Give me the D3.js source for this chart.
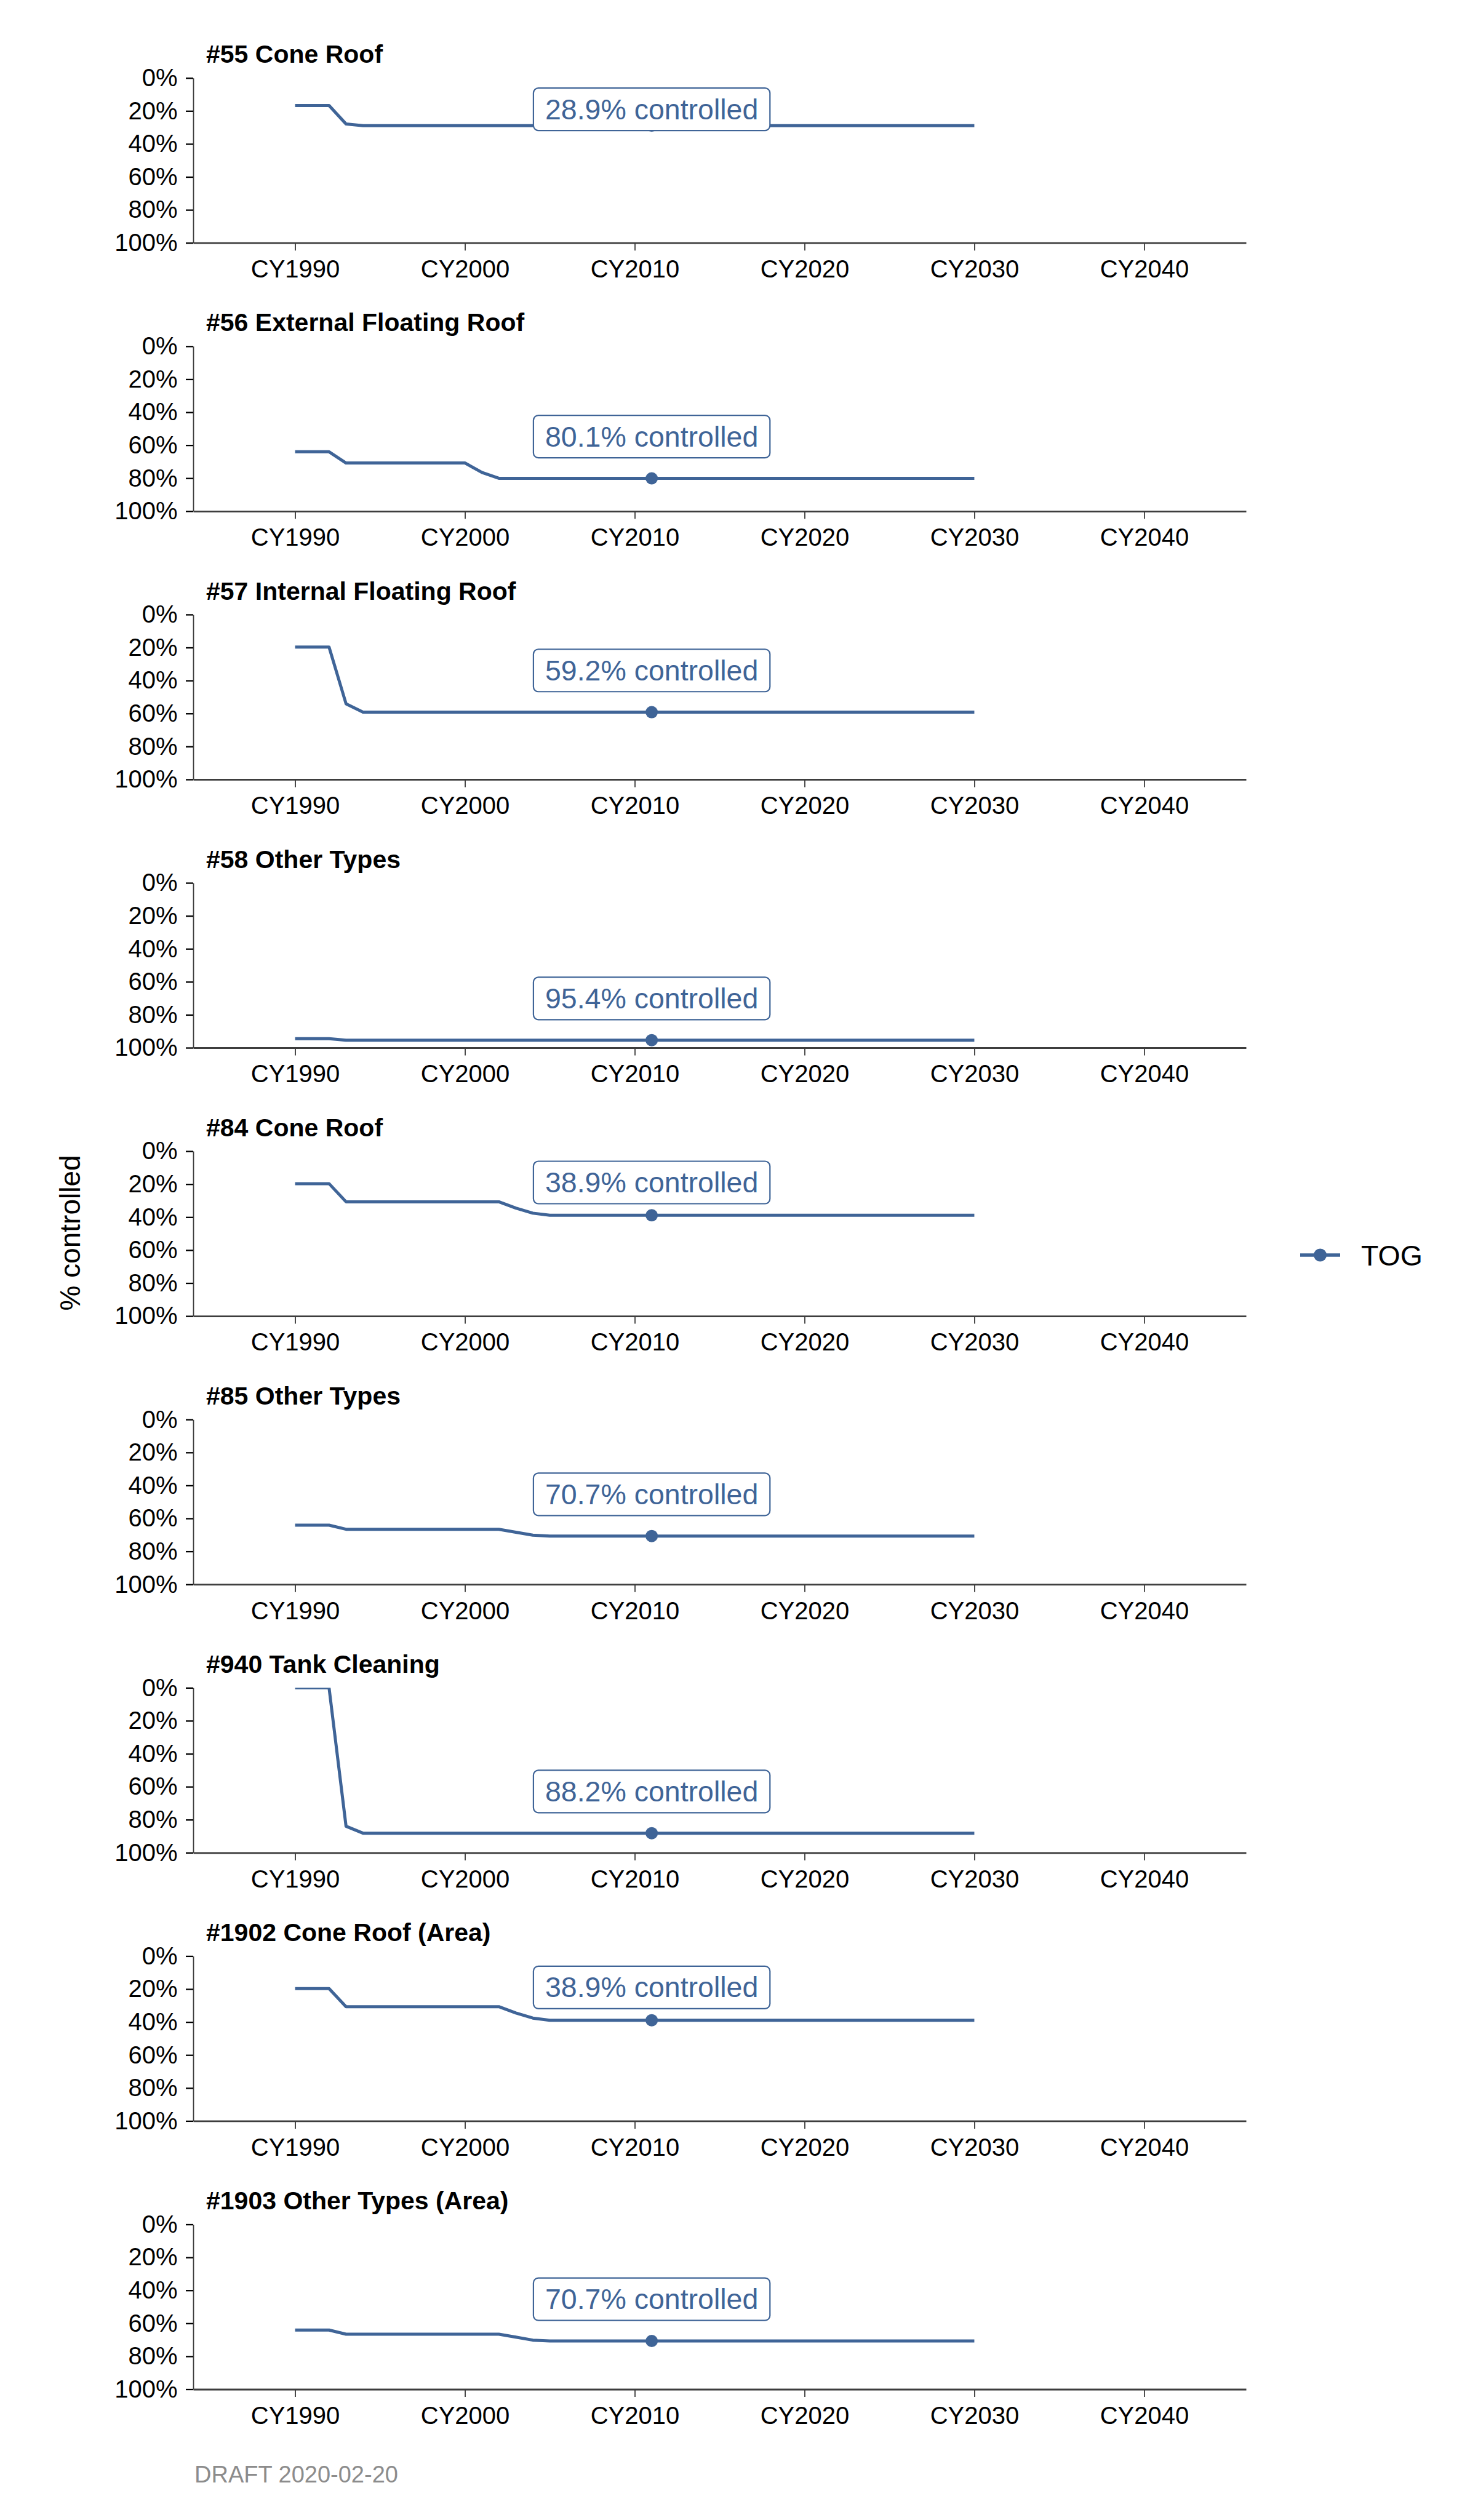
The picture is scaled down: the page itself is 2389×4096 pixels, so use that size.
<!DOCTYPE html>
<html><head><meta charset="utf-8">
<script src="https://cdn.jsdelivr.net/npm/d3@7"></script>
<style>
body{margin:0;background:#fff}
svg{display:block}
text{font-family:"Liberation Sans",Arial,Helvetica,sans-serif}
</style>
</head><body>
<script>
// ---------------- DATA ----------------
const years = [
  1990,1991,1992,1993,1994,1995,1996,1997,1998,1999,
  2000,2001,2002,2003,2004,2005,2006,2007,2008,2009,
  2010,2011,2012,2013,2014,2015,2016,2017,2018,2019,
  2020,2021,2022,2023,2024,2025,2026,2027,2028,2029,
  2030];

const panelTitles = ["#55 Cone Roof","#56 External Floating Roof","#57 Internal Floating Roof",
  "#58 Other Types","#84 Cone Roof","#85 Other Types","#940 Tank Cleaning",
  "#1902 Cone Roof (Area)","#1903 Other Types (Area)"];

const s55 = [
  16.7,16.7,16.7,27.9,28.9,28.9,28.9,28.9,28.9,28.9,
  28.9,28.9,28.9,28.9,28.9,28.9,28.9,28.9,28.9,28.9,
  28.9,28.9,28.9,28.9,28.9,28.9,28.9,28.9,28.9,28.9,
  28.9,28.9,28.9,28.9,28.9,28.9,28.9,28.9,28.9,28.9,
  28.9];
const s56 = [
  64.0,64.0,64.0,70.8,70.8,70.8,70.8,70.8,70.8,70.8,
  70.8,76.5,80.1,80.1,80.1,80.1,80.1,80.1,80.1,80.1,
  80.1,80.1,80.1,80.1,80.1,80.1,80.1,80.1,80.1,80.1,
  80.1,80.1,80.1,80.1,80.1,80.1,80.1,80.1,80.1,80.1,
  80.1];
const s57 = [
  19.7,19.7,19.7,54.1,59.2,59.2,59.2,59.2,59.2,59.2,
  59.2,59.2,59.2,59.2,59.2,59.2,59.2,59.2,59.2,59.2,
  59.2,59.2,59.2,59.2,59.2,59.2,59.2,59.2,59.2,59.2,
  59.2,59.2,59.2,59.2,59.2,59.2,59.2,59.2,59.2,59.2,
  59.2];
const s58 = [
  94.5,94.5,94.5,95.4,95.4,95.4,95.4,95.4,95.4,95.4,
  95.4,95.4,95.4,95.4,95.4,95.4,95.4,95.4,95.4,95.4,
  95.4,95.4,95.4,95.4,95.4,95.4,95.4,95.4,95.4,95.4,
  95.4,95.4,95.4,95.4,95.4,95.4,95.4,95.4,95.4,95.4,
  95.4];
const s84 = [
  19.7,19.7,19.7,30.7,30.7,30.7,30.7,30.7,30.7,30.7,
  30.7,30.7,30.7,34.5,37.6,38.9,38.9,38.9,38.9,38.9,
  38.9,38.9,38.9,38.9,38.9,38.9,38.9,38.9,38.9,38.9,
  38.9,38.9,38.9,38.9,38.9,38.9,38.9,38.9,38.9,38.9,
  38.9];
const s85 = [
  64.1,64.1,64.1,66.6,66.6,66.6,66.6,66.6,66.6,66.6,
  66.6,66.6,66.6,68.4,70.2,70.7,70.7,70.7,70.7,70.7,
  70.7,70.7,70.7,70.7,70.7,70.7,70.7,70.7,70.7,70.7,
  70.7,70.7,70.7,70.7,70.7,70.7,70.7,70.7,70.7,70.7,
  70.7];
const s940 = [
  0.0,0.0,0.0,84.0,88.2,88.2,88.2,88.2,88.2,88.2,
  88.2,88.2,88.2,88.2,88.2,88.2,88.2,88.2,88.2,88.2,
  88.2,88.2,88.2,88.2,88.2,88.2,88.2,88.2,88.2,88.2,
  88.2,88.2,88.2,88.2,88.2,88.2,88.2,88.2,88.2,88.2,
  88.2];
const s1902 = [
  19.7,19.7,19.7,30.7,30.7,30.7,30.7,30.7,30.7,30.7,
  30.7,30.7,30.7,34.5,37.6,38.9,38.9,38.9,38.9,38.9,
  38.9,38.9,38.9,38.9,38.9,38.9,38.9,38.9,38.9,38.9,
  38.9,38.9,38.9,38.9,38.9,38.9,38.9,38.9,38.9,38.9,
  38.9];
const s1903 = [
  64.1,64.1,64.1,66.6,66.6,66.6,66.6,66.6,66.6,66.6,
  66.6,66.6,66.6,68.4,70.2,70.7,70.7,70.7,70.7,70.7,
  70.7,70.7,70.7,70.7,70.7,70.7,70.7,70.7,70.7,70.7,
  70.7,70.7,70.7,70.7,70.7,70.7,70.7,70.7,70.7,70.7,
  70.7];

const seriesValues = [s55, s56, s57, s58, s84, s85, s940, s1902, s1903];
const highlightYear = 2011;
const highlightLabels = [28.9, 80.1, 59.2, 95.4, 38.9, 70.7, 88.2, 38.9, 70.7];
const yTicks = [0, 20, 40, 60, 80, 100];
const xTicks = [1990, 2000, 2010, 2020, 2030, 2040];
const legendLabel = "TOG";
const yAxisTitle = "% controlled";
const caption = "DRAFT 2020-02-20";

// ---------------- LAYOUT ----------------
const W = 2389, H = 4096;
const color = "#3f6497";
const svg = d3.select("body").append("svg").attr("width", W).attr("height", H);

const x = d3.scaleLinear().domain([1984, 2046]).range([314, 2025]);
const panelTop0 = 126.7, panelStep = 436.1, panelH = 268;
const y = d3.scaleLinear().domain([0, 100]).range([0, panelH]);

const defs = svg.append("defs");
defs.append("clipPath").attr("id", "plotclip")
  .append("rect").attr("x", x.range()[0]).attr("y", 0)
  .attr("width", x.range()[1] - x.range()[0]).attr("height", panelH);

const line = d3.line().x(d => x(d[0])).y(d => y(d[1]));

panelTitles.forEach((title, i) => {
  const top = panelTop0 + panelStep * i;
  const g = svg.append("g").attr("transform", `translate(0,${top})`);
  const vals = seriesValues[i];
  const pts = years.map((yr, k) => [yr, vals[k]]);

  // title
  g.append("text").attr("x", 335).attr("y", -24.4)
    .attr("font-size", 41).attr("font-weight", "bold").attr("fill", "#000")
    .text(title);

  // y axis
  const ya = g.append("g").attr("transform", `translate(${x.range()[0]},0)`)
    .call(d3.axisLeft(y).tickValues(yTicks).tickFormat(d => d + "%")
      .tickSize(12).tickSizeOuter(0).tickPadding(13.5));
  ya.select(".domain").attr("stroke", "#3d3d3d").attr("stroke-width", 1.8);
  ya.selectAll(".tick line").attr("stroke", "#000").attr("stroke-width", 2.3);
  ya.selectAll(".tick text").attr("font-size", 40).attr("fill", "#000")
    .attr("font-family", "'Liberation Sans',Arial,sans-serif");

  // x axis
  const xa = g.append("g").attr("transform", `translate(0,${panelH})`)
    .call(d3.axisBottom(x).tickValues(xTicks).tickFormat(d => "CY" + d)
      .tickSize(12.5).tickSizeOuter(0).tickPadding(15.5));
  xa.select(".domain").attr("stroke", "#3d3d3d").attr("stroke-width", 2.8);
  xa.selectAll(".tick line").attr("stroke", "#3d3d3d").attr("stroke-width", 1.8);
  xa.selectAll(".tick text").attr("font-size", 40).attr("fill", "#000")
    .attr("font-family", "'Liberation Sans',Arial,sans-serif");

  // series line
  g.append("path").datum(pts).attr("clip-path", "url(#plotclip)")
    .attr("d", line).attr("fill", "none").attr("stroke", color)
    .attr("stroke-width", 5).attr("stroke-linejoin", "round");

  // highlight point
  const hv = vals[years.indexOf(highlightYear)];
  g.append("circle").attr("cx", x(highlightYear)).attr("cy", y(hv))
    .attr("r", 10).attr("fill", color);

  // label box
  const lv = highlightLabels[i];
  const ly = y(Math.max(lv - 25.3, 19.0));
  const lg = g.append("g");
  const rect = lg.append("rect");
  const t = lg.append("text").attr("x", x(highlightYear)).attr("y", ly)
    .attr("text-anchor", "middle").attr("dominant-baseline", "central")
    .attr("font-size", 46.5).attr("fill", color)
    .text(lv.toFixed(1) + "% controlled");
  const tw = t.node().getComputedTextLength();
  const bw = tw + 38, bh = 69;
  rect.attr("x", x(highlightYear) - bw / 2).attr("y", ly - bh / 2)
    .attr("width", bw).attr("height", bh).attr("rx", 8).attr("ry", 8)
    .attr("fill", "#fff").attr("stroke", color).attr("stroke-width", 2.2);
});

// y axis title
svg.append("text")
  .attr("transform", "translate(129.5,2004) rotate(-90)")
  .attr("text-anchor", "middle").attr("font-size", 46).attr("fill", "#000")
  .text(yAxisTitle);

// legend
const lgd = svg.append("g");
lgd.append("line").attr("x1", 2113).attr("x2", 2178).attr("y1", 2040).attr("y2", 2040)
  .attr("stroke", color).attr("stroke-width", 5.3);
lgd.append("circle").attr("cx", 2145.5).attr("cy", 2040).attr("r", 10.5).attr("fill", color);
lgd.append("text").attr("x", 2212).attr("y", 2057).attr("font-size", 46.5).attr("fill", "#000")
  .text(legendLabel);

// caption
svg.append("text").attr("x", 316).attr("y", 4034.5).attr("font-size", 38)
  .attr("fill", "#8c8c8c").text(caption);
</script>
</body></html>
